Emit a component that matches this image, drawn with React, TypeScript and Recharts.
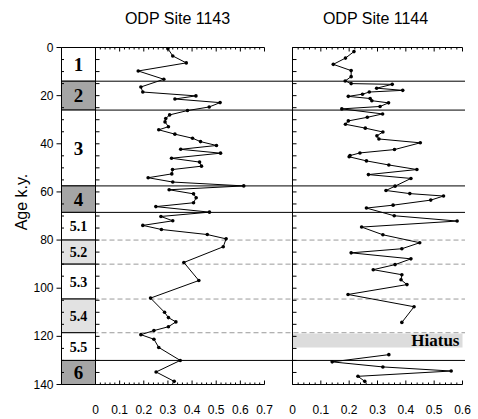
import { ScatterChart, Scatter, XAxis, YAxis, ReferenceLine, ReferenceArea } from 'recharts';

const W = 478;
const H = 419;
const SANS = '"Liberation Sans", Arial, sans-serif';
const SERIF = '"Liberation Serif", "Times New Roman", serif';

// isotope stages (ages in k.y.)
const stageNames = ['1', '2', '3', '4', '5.1', '5.2', '5.3', '5.4', '5.5', '6'];
const stageTops = [0, 14, 26, 57.5, 68.5, 80, 90, 104.5, 118.5, 130];
const stageBottoms = [14, 26, 57.5, 68.5, 80, 90, 104.5, 118.5, 130, 140];
const stageShades = ['none', 'dark', 'none', 'dark', 'none', 'light', 'none', 'light', 'none', 'dark'];
const stageLines = [14, 26, 57.5, 68.5, 130];
const substageLines = [80, 90, 104.5, 118.5];
const hiatus = [118.8, 124.6];

const ageTicks = [0, 5, 10, 15, 20, 25, 30, 35, 40, 45, 50, 55, 60, 65, 70, 75, 80, 85, 90, 95, 100, 105, 110, 115, 120, 125, 130, 135, 140];
const ticks1143 = [0, 0.02, 0.04, 0.06, 0.08, 0.1, 0.12, 0.14, 0.16, 0.18, 0.2, 0.22, 0.24, 0.26, 0.28, 0.3, 0.32, 0.34, 0.36, 0.38, 0.4, 0.42, 0.44, 0.46, 0.48, 0.5, 0.52, 0.54, 0.56, 0.58, 0.6, 0.62, 0.64, 0.66, 0.68, 0.7];
const ticks1144 = [0, 0.02, 0.04, 0.06, 0.08, 0.1, 0.12, 0.14, 0.16, 0.18, 0.2, 0.22, 0.24, 0.26, 0.28, 0.3, 0.32, 0.34, 0.36, 0.38, 0.4, 0.42, 0.44, 0.46, 0.48, 0.5, 0.52, 0.54, 0.56, 0.58, 0.6];

// ODP Site 1143
const age1143 = [0.5, 3.5, 6.4, 9.75, 13.2, 16.4, 18.5, 20.1, 21.4, 22.9, 24.7, 26.2, 28.0, 29.5, 30.9, 32.9, 34.2, 36.0, 37.7, 39.1, 40.7, 42.3, 43.9, 46.0, 47.6, 49.3, 50.7, 52.5, 54.1, 55.9, 57.5, 59.1, 60.8, 62.4, 64.5, 66.1, 68.4, 70.2, 72.0, 73.9, 75.6, 77.7, 79.5, 82.8, 89.3, 96.8, 104.1, 110.0, 112.2, 114.0, 116.0, 117.6, 119.3, 121.2, 124.6, 130.0, 134.8, 138.7];
const val1143 = [0.3, 0.32, 0.376, 0.177, 0.283, 0.188, 0.196, 0.416, 0.329, 0.516, 0.471, 0.381, 0.307, 0.291, 0.288, 0.302, 0.262, 0.329, 0.402, 0.435, 0.501, 0.353, 0.518, 0.315, 0.431, 0.439, 0.319, 0.316, 0.218, 0.32, 0.614, 0.305, 0.406, 0.417, 0.406, 0.25, 0.472, 0.271, 0.32, 0.196, 0.273, 0.463, 0.541, 0.529, 0.366, 0.428, 0.228, 0.286, 0.302, 0.333, 0.302, 0.242, 0.188, 0.242, 0.262, 0.351, 0.251, 0.326];

// ODP Site 1144, above and below the hiatus
const age1144a = [1.7, 4.4, 7.0, 9.6, 12.1, 13.9, 15.0, 15.3, 16.9, 17.8, 18.5, 19.4, 20.3, 21.2, 22.1, 23.0, 24.5, 25.5, 27.6, 29.0, 30.5, 31.9, 33.5, 35.1, 36.7, 38.0, 39.6, 42.4, 43.8, 44.9, 45.4, 47.1, 48.8, 50.7, 52.8, 54.4, 57.6, 59.4, 60.7, 61.7, 63.4, 65.5, 66.7, 69.9, 72.1, 74.6, 77.8, 81.1, 83.6, 85.3, 87.8, 90.2, 92.3, 94.4, 96.5, 98.5, 102.6, 107.7, 114.2];
const val1144a = [0.217, 0.187, 0.144, 0.207, 0.207, 0.186, 0.207, 0.352, 0.297, 0.389, 0.271, 0.247, 0.197, 0.274, 0.28, 0.339, 0.309, 0.174, 0.318, 0.264, 0.197, 0.187, 0.257, 0.319, 0.298, 0.305, 0.451, 0.36, 0.238, 0.203, 0.2, 0.261, 0.34, 0.439, 0.268, 0.418, 0.362, 0.33, 0.414, 0.533, 0.488, 0.355, 0.261, 0.359, 0.581, 0.244, 0.319, 0.449, 0.386, 0.207, 0.418, 0.362, 0.285, 0.386, 0.383, 0.404, 0.196, 0.429, 0.386];
const age1144b = [127.6, 130.6, 132.7, 134.4, 136.6, 138.7];
const val1144b = [0.34, 0.14, 0.319, 0.56, 0.231, 0.255];

const toPoints = (ages: number[], vals: number[]) => ages.map((age, i) => ({ age, v: vals[i] }));

const isMajor = (v: number) => Math.abs(v * 10 - Math.round(v * 10)) < 1e-6;

function Dot(props: any) {
  const { cx, cy } = props;
  if (cx == null || cy == null) return null;
  return <circle cx={cx} cy={cy} r={1.8} fill="#000" />;
}

function StageTick(props: any) {
  const { x, y, payload } = props;
  const v = payload.value;
  if (v % 20 === 0) {
    return (
      <g>
        <line x1={x - 5} x2={x} y1={y} y2={y} stroke="#000" />
        <text x={x - 8} y={y} dy={4} textAnchor="end" fontSize={12} fontFamily={SANS} fill="#000">
          {v}
        </text>
      </g>
    );
  }
  return <line x1={x} x2={x + 2.5} y1={y} y2={y} stroke="#000" />;
}

function InnerAgeTick(props: any) {
  const { x, y } = props;
  return <line x1={x} x2={x + 4} y1={y} y2={y} stroke="#000" />;
}

function TopTick(props: any) {
  const { x, y, payload } = props;
  const len = isMajor(payload.value) ? 4 : 2;
  return <line x1={x} x2={x} y1={y} y2={y + len} stroke="#000" />;
}

function BottomTick(props: any) {
  const { x, y, payload } = props;
  const v = payload.value;
  const major = isMajor(v);
  return (
    <g>
      <line x1={x} x2={x} y1={y} y2={y - (major ? 4 : 2)} stroke="#000" />
      {major && (
        <text x={x} y={y + 29.5} textAnchor="middle" fontSize={12} fontFamily={SANS} fill="#000">
          {v === 0 ? '0' : v.toFixed(1)}
        </text>
      )}
    </g>
  );
}

function AgeLabel(props: any) {
  const vb = props.viewBox || { x: 60.5, y: 47.5, width: 1, height: 337 };
  const x = vb.x - 34;
  const y = vb.y + vb.height / 2 - 14;
  return (
    <text x={x} y={y} transform={`rotate(-90, ${x}, ${y})`} textAnchor="middle" fontSize={16} fontFamily={SANS} fill="#000">
      Age k.y.
    </text>
  );
}

const layer: React.CSSProperties = { position: 'absolute', left: 0, top: 0 };

function Lines() {
  return (
    <div style={layer}>
      <ScatterChart width={W} height={H} margin={{ top: 47.5, bottom: 34.5, left: 61.5, right: 13 }}>
        <XAxis type="number" dataKey="v" domain={[0, 1]} allowDataOverflow hide height={0} />
        <YAxis type="number" dataKey="age" domain={[0, 140]} reversed allowDataOverflow hide width={0} />
        {stageLines.map((a) => (
          <ReferenceLine key={a} y={a} stroke="#000" strokeWidth={1} />
        ))}
        {substageLines.map((a) => (
          <ReferenceLine key={a} y={a} stroke="#9a9a9a" strokeWidth={1} strokeDasharray="5 3" />
        ))}
      </ScatterChart>
    </div>
  );
}

function Stages() {
  return (
    <div style={layer}>
      <ScatterChart width={W} height={H} margin={{ top: 47.5, bottom: 34.5, left: 60.5, right: 382.5 }}>
        <XAxis type="number" dataKey="v" domain={[0, 1]} allowDataOverflow hide height={0} />
        <YAxis
          type="number"
          dataKey="age"
          domain={[0, 140]}
          reversed
          allowDataOverflow
          ticks={ageTicks}
          interval={0}
          width={1}
          tickSize={0}
          tickMargin={0}
          tickLine={false}
          stroke="#000"
          tick={(p: any) => <StageTick {...p} />}
          label={<AgeLabel />}
        />
        {stageNames.map((name, i) => (
          <ReferenceArea
            key={name}
            y1={stageTops[i]}
            y2={stageBottoms[i]}
            fill={stageShades[i] === 'dark' ? '#a5a5a5' : stageShades[i] === 'light' ? '#e2e2e2' : '#fff'}
            fillOpacity={1}
            stroke="#000"
            strokeWidth={1}
            label={{
              value: name,
              position: 'center',
              fill: '#000',
              fontSize: name.length > 1 ? 14 : 19,
              fontWeight: 'bold',
              fontFamily: SERIF,
            }}
          />
        ))}
      </ScatterChart>
    </div>
  );
}

interface PanelProps {
  title: string;
  series: { age: number; v: number }[][];
  xMax: number;
  xTicks: number[];
  left: number;
  right: number;
  titleShift: number;
  showHiatus?: boolean;
}

function Panel({ title, series, xMax, xTicks, left, right, titleShift, showHiatus }: PanelProps) {
  return (
    <div style={layer}>
      <ScatterChart width={W} height={H} margin={{ top: 46.5, bottom: 33.5, left, right }}>
        <XAxis
          xAxisId="top"
          orientation="top"
          type="number"
          dataKey="v"
          domain={[0, xMax]}
          allowDataOverflow
          ticks={xTicks}
          interval={0}
          height={1}
          tickSize={0}
          tickMargin={0}
          tickLine={false}
          stroke="#000"
          tick={(p: any) => <TopTick {...p} />}
          label={{ value: title, position: 'top', offset: 22.5, dx: titleShift, fill: '#000', fontSize: 16, fontFamily: SANS }}
        />
        <XAxis
          xAxisId="bottom"
          orientation="bottom"
          type="number"
          dataKey="v"
          domain={[0, xMax]}
          allowDataOverflow
          ticks={xTicks}
          interval={0}
          height={1}
          tickSize={0}
          tickMargin={0}
          tickLine={false}
          stroke="#000"
          tick={(p: any) => <BottomTick {...p} />}
        />
        <YAxis
          type="number"
          dataKey="age"
          domain={[0, 140]}
          reversed
          allowDataOverflow
          ticks={ageTicks}
          interval={0}
          width={1}
          tickSize={0}
          tickMargin={0}
          tickLine={false}
          stroke="#000"
          tick={(p: any) => <InnerAgeTick {...p} />}
        />
        {showHiatus && (
          <ReferenceArea
            xAxisId="bottom"
            y1={hiatus[0]}
            y2={hiatus[1]}
            fill="#dcdcdc"
            fillOpacity={1}
            stroke="none"
            label={{
              value: 'Hiatus',
              position: 'insideRight',
              offset: 3,
              fill: '#000',
              fontSize: 17,
              fontWeight: 'bold',
              fontFamily: SERIF,
            }}
          />
        )}
        {series.map((d, i) => (
          <Scatter
            key={i}
            xAxisId="bottom"
            data={d}
            line={{ stroke: '#000', strokeWidth: 1 }}
            lineType="joint"
            shape={(p: any) => <Dot {...p} />}
            isAnimationActive={false}
          />
        ))}
      </ScatterChart>
    </div>
  );
}

export default function App() {
  return (
    <div style={{ position: 'absolute', left: 0, top: 0, width: W, height: H, background: '#fff' }}>
      <Lines />
      <Stages />
      <Panel
        title="ODP Site 1143"
        series={[toPoints(age1143, val1143)]}
        xMax={0.7}
        xTicks={ticks1143}
        left={94.5}
        right={213.5}
        titleShift={-2.5}
      />
      <Panel
        title="ODP Site 1144"
        series={[toPoints(age1144a, val1144a), toPoints(age1144b, val1144b)]}
        xMax={0.6}
        xTicks={ticks1144}
        left={291.5}
        right={15.5}
        titleShift={-2}
        showHiatus
      />
    </div>
  );
}
